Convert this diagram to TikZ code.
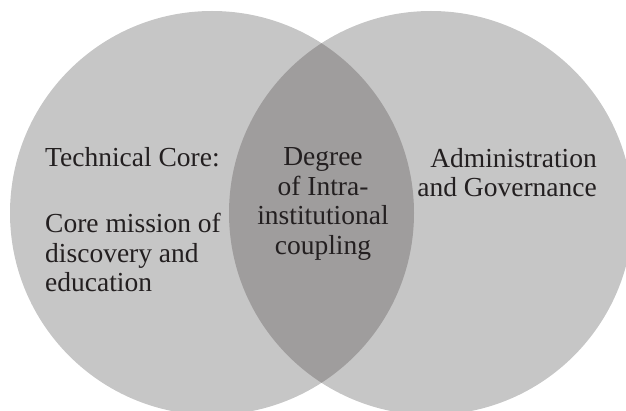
\documentclass[tikz,border=0pt]{standalone}
\usepackage{fontspec}
\setmainfont{Liberation Serif}
\usetikzlibrary{positioning}
\definecolor{circlegray}{HTML}{C6C6C6}
\definecolor{overlapgray}{HTML}{9F9D9D}
\definecolor{textgray}{HTML}{231F20}
\tikzset{vlabel/.style={font=\fontsize{27.5}{29.5}\selectfont,text=textgray,inner sep=0pt}}

\begin{document}
\begin{tikzpicture}[x=1pt,y=-1pt]
\clip (0,0) rectangle (626,411);
% the two circles
\fill[circlegray] (212,213) circle (202pt);
\fill[circlegray] (431,213) circle (202pt);
\begin{scope}
\clip (212,213) circle (202pt);
\fill[overlapgray] (431,213) circle (202pt);
\end{scope}

\node[vlabel,anchor=west] (techcore) at (45,157.5) {Technical Core:};
\node[vlabel,anchor=west,align=left] (mission) at (45,252.5) {Core mission of\\discovery and\\education};
\node[vlabel,align=center] (coupling) at (323,204) {Degree\\of Intra-\\institutional\\coupling};
\node[vlabel,anchor=east,align=right] (admin) at (597,172.5) {Administration\\and Governance};
\end{tikzpicture}
\end{document}
